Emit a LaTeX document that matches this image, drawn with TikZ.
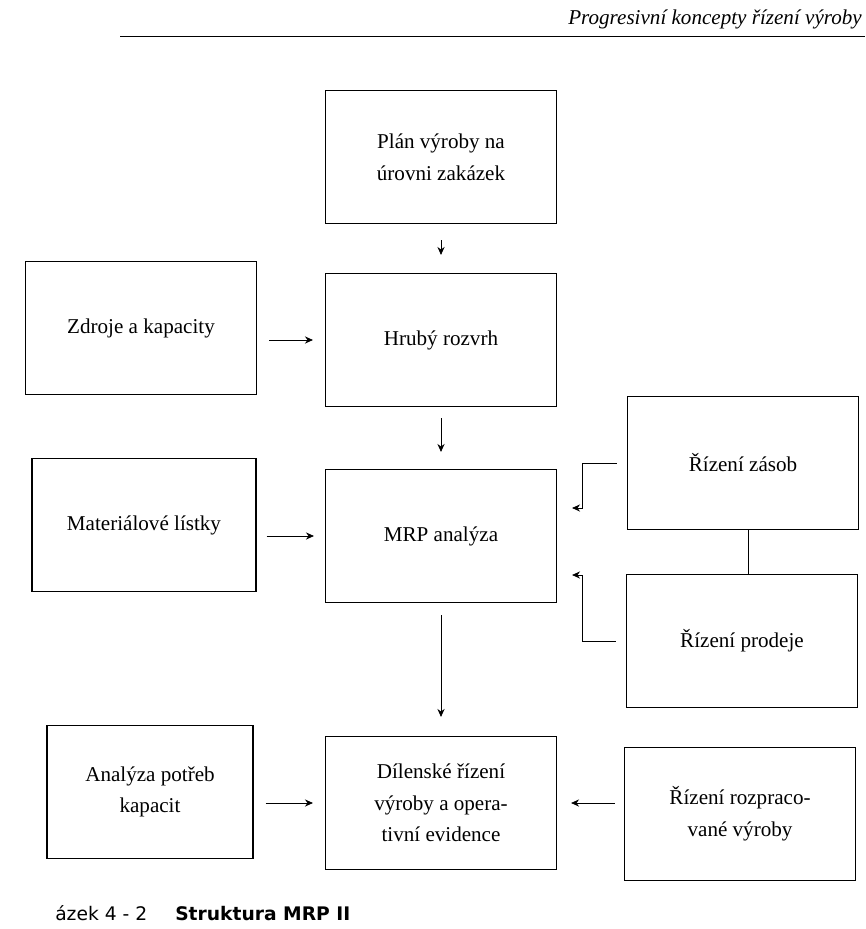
\documentclass[tikz,border=0pt]{standalone}
\usepackage{fontspec}
\setmainfont{Liberation Serif}
\newfontfamily\capfont{DejaVu Sans}
\usetikzlibrary{arrows.meta}

\begin{document}
\begin{tikzpicture}[
    x=0.25mm, y=-0.25mm,
    box/.style={draw, line width=0.8pt, align=center, inner sep=2pt,
                minimum width=57.75mm, minimum height=33.25mm,
                font=\fontsize{15}{22.5}\selectfont},
    arrow/.style={-{Stealth[length=2mm, width=1.8mm]}, line width=0.6pt},
    link/.style={line width=0.6pt}
]
\useasboundingbox (0,0) rectangle (865,929);

% header
\node[anchor=base east, inner sep=0pt, font=\fontsize{15}{17}\selectfont\itshape]
    (kopf) at (862,25) {Progresivní koncepty řízení výroby};
\draw[line width=0.7pt] (120,36) -- (865,36);

% middle column
\node[box] (plan) at (441,157) {Plán výroby na\\ úrovni zakázek};
\node[box] (hruby) at (441,340) {Hrubý rozvrh};
\node[box] (mrp) at (441,536) {MRP analýza};
\node[box] (dilna) at (441,803) {Dílenské řízení\\ výroby a opera-\\ tivní evidence};

% left column
\node[box] (zdroje) at (141,328) {Zdroje a kapacity};
\node[box, minimum width=56mm] (material) at (144,525) {Materiálové lístky};
\node[box, minimum width=51.5mm] (analyza) at (150,792) {Analýza potřeb\\ kapacit};

% right column
\node[box] (zasoby) at (743,463) {Řízení zásob};
\node[box] (prodej) at (742,641) {Řízení prodeje};
\node[box] (rozprac) at (740,814) {Řízení rozpraco-\\ vané výroby};

\coordinate (inZ) at ([xshift=3.75mm, yshift=7mm]mrp.east);
\coordinate (inP) at ([xshift=3.75mm, yshift=-9.75mm]mrp.east);

\draw[arrow] ([yshift=-4mm]plan.south) -- ([yshift=4.5mm]hruby.north);
\draw[arrow] ([yshift=-2.75mm]hruby.south) -- ([yshift=4.25mm]mrp.north);
\draw[arrow] ([yshift=-3mm]mrp.south) -- ([yshift=4.75mm]dilna.north);
\draw[arrow] ([xshift=3mm]zdroje.east |- hruby.west) -- ([xshift=-3mm]hruby.west);
\draw[arrow] ([xshift=2.5mm]material.east |- mrp.west) -- ([xshift=-2.75mm]mrp.west);
\draw[arrow] ([xshift=3mm]analyza.east |- dilna.west) -- ([xshift=-3mm]dilna.west);
\draw[arrow] ([xshift=-2.25mm]rozprac.west |- dilna.east) -- ([xshift=3.5mm]dilna.east);
\draw[arrow] ([xshift=-2.5mm]zasoby.west) -| ([xshift=2.5mm]inZ) -- (inZ);
\draw[arrow] ([xshift=-2.5mm]prodej.west) -| ([xshift=2.5mm]inP) -- (inP);
\draw[link] ([xshift=1.25mm]zasoby.south) -- ([xshift=1.25mm]zasoby.south |- prodej.north);

% caption
\node[anchor=base west, inner sep=0pt, font=\capfont\fontsize{13.3}{15}\selectfont]
    (cislo) at (55,920) {ázek 4 - 2};
\node[anchor=base west, inner sep=0pt, font=\capfont\bfseries\fontsize{13.3}{15}\selectfont]
    (popis) at (175,920) {Struktura MRP II};
\end{tikzpicture}
\end{document}
